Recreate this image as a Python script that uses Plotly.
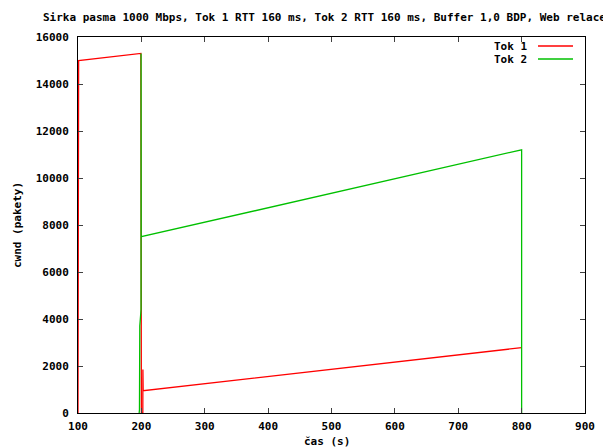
import plotly.graph_objects as go

# Congestion window traces for the two TCP flows (time in s, cwnd in packets)
tok1_time = [100.0, 100.5, 100.5, 101.0, 199.2, 199.5, 199.7, 200.0, 202.3, 202.4, 202.8, 800.0]
tok1_cwnd = [0, 7100, 3500, 15000, 15300, 4400, 3700, 0, 0, 1850, 950, 2780]

tok2_time = [196.5, 197.0, 197.5, 199.5, 199.5, 199.7, 800.0, 800.0]
tok2_cwnd = [0, 150, 3700, 4400, 15300, 7500, 11200, 0]

x_ticks = [100, 200, 300, 400, 500, 600, 700, 800, 900]
y_ticks = [0, 2000, 4000, 6000, 8000, 10000, 12000, 14000, 16000]

title_text = "Sirka pasma 1000 Mbps, Tok 1 RTT 160 ms, Tok 2 RTT 160 ms, Buffer 1,0 BDP, Web relace"
series_names = ["Tok 1", "Tok 2"]
series_colors = ["#ff0000", "#00c000"]

FONT = "DejaVu Sans Mono"
W, H = 603, 448
ML, MR, MT, MB = 78, 18, 37, 35
PW, PH = W - ML - MR, H - MT - MB

fig = go.Figure()
fig.add_trace(go.Scatter(x=tok1_time, y=tok1_cwnd, mode="lines", name=series_names[0],
                         line=dict(color=series_colors[0], width=1.3), showlegend=False))
fig.add_trace(go.Scatter(x=tok2_time, y=tok2_cwnd, mode="lines", name=series_names[1],
                         line=dict(color=series_colors[1], width=1.3), showlegend=False))

# gnuplot-style key: label on the left, line sample on the right
for i, (name, color) in enumerate(zip(series_names, series_colors)):
    ypx = 46 + i * 13
    y = 1 - (ypx - MT) / PH
    fig.add_annotation(xref="paper", yref="paper", x=(529 - ML) / PW, y=y,
                       text="<b>%s</b>" % name, showarrow=False,
                       xanchor="right", yanchor="middle",
                       font=dict(family=FONT, size=11, color="black"))
    fig.add_shape(type="line", xref="paper", yref="paper",
                  x0=(538 - ML) / PW, x1=(573 - ML) / PW, y0=y, y1=y,
                  line=dict(color=color, width=1.3))

# axis titles
fig.add_annotation(xref="paper", yref="paper", x=(327 - ML) / PW, y=1 - (441 - MT) / PH,
                   text="<b>čas (s)</b>", showarrow=False, xanchor="center", yanchor="middle",
                   font=dict(family=FONT, size=11, color="black"))
fig.add_annotation(xref="paper", yref="paper", x=(17 - ML) / PW, y=1 - (225 - MT) / PH,
                   text="<b>cwnd (pakety)</b>", showarrow=False, textangle=-90,
                   xanchor="center", yanchor="middle",
                   font=dict(family=FONT, size=11, color="black"))

axis_common = dict(showgrid=False, zeroline=False, showline=True, mirror="ticks",
                   linecolor="black", linewidth=1, ticks="inside", ticklen=5,
                   tickcolor="#404040", automargin=False,
                   tickfont=dict(family=FONT, size=11, color="black"))

fig.update_xaxes(range=[100, 900], tickvals=x_ticks, ticklabelstandoff=3,
                 ticktext=["<b>%d</b>" % v for v in x_ticks], **axis_common)
fig.update_yaxes(range=[0, 16000], tickvals=y_ticks, ticklabelstandoff=6,
                 ticktext=["<b>%d</b>" % v for v in y_ticks], **axis_common)

fig.update_layout(
    width=W, height=H,
    margin=dict(l=ML, r=MR, t=MT, b=MB),
    paper_bgcolor="white", plot_bgcolor="white",
    title=dict(text="<b>%s</b>" % title_text, x=43 / W, xanchor="left", xref="container",
               y=1 - 17 / H, yanchor="middle", yref="container", automargin=False,
               font=dict(family=FONT, size=11, color="black")),
)

fig.write_html("out.html")
